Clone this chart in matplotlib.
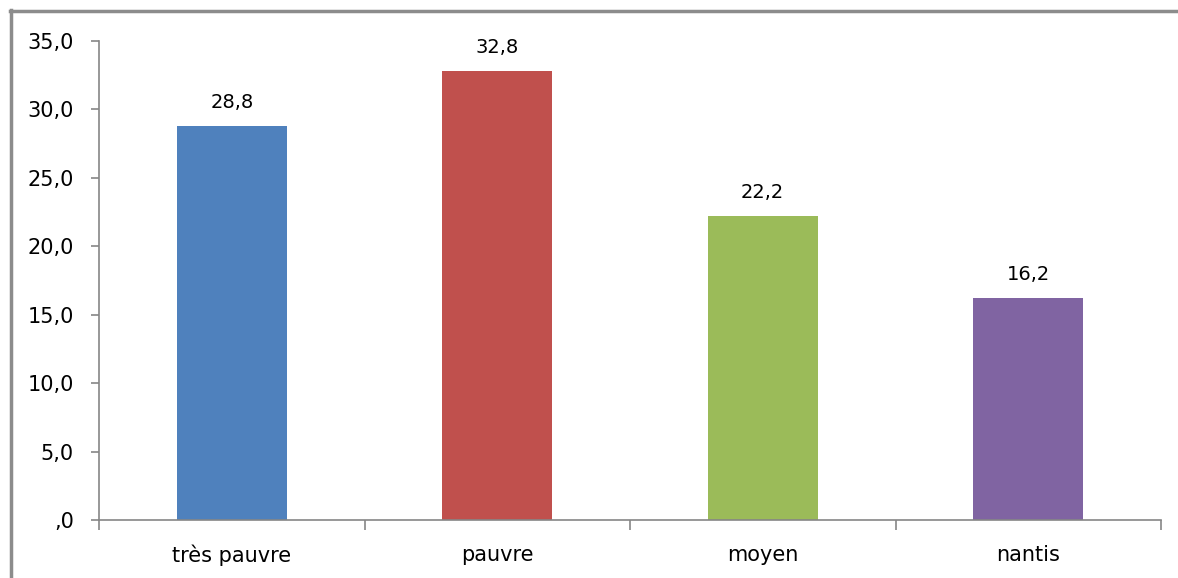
import matplotlib.pyplot as plt
from matplotlib.lines import Line2D
from matplotlib.ticker import FixedLocator, FuncFormatter

categories = ["très pauvre", "pauvre", "moyen", "nantis"]
values = [28.8, 32.8, 22.2, 16.2]
colors = ["#4F81BD", "#C0504D", "#9BBB59", "#8064A2"]
y_ticks = [0, 5, 10, 15, 20, 25, 30, 35]

axis_gray = "#868686"


def fr_number(v):
    s = f"{v:.1f}".replace(".", ",")
    # Excel-style: leading zero dropped
    if s.startswith("0"):
        s = s[1:]
    return s


fig = plt.figure(figsize=(11.78, 5.78), dpi=100)
ax = fig.add_axes([99 / 1178, 1 - 520 / 578, 1062 / 1178, 479 / 578])

x = list(range(len(categories)))
ax.bar(x, values, width=0.415, color=colors, zorder=2)

for xi, v in zip(x, values):
    ax.annotate(fr_number(v), (xi, v), xytext=(0, 10), textcoords="offset points",
                ha="center", va="bottom", fontsize=14, color="#000000")

ax.set_xlim(-0.5, len(categories) - 0.5)
ax.set_ylim(0, 35)
ax.set_yticks(y_ticks)
ax.yaxis.set_major_formatter(FuncFormatter(lambda v, p: fr_number(v)))

ax.set_xticks(x)
ax.set_xticklabels(categories)
ax.xaxis.set_minor_locator(FixedLocator([i - 0.5 for i in range(len(categories) + 1)]))

for side in ["top", "right"]:
    ax.spines[side].set_visible(False)
for side in ["left", "bottom"]:
    ax.spines[side].set_color(axis_gray)
    ax.spines[side].set_linewidth(1.2)
    ax.spines[side].set_zorder(3)

ax.tick_params(axis="y", direction="out", length=6, width=1.2, color=axis_gray,
               pad=12, labelsize=15)
ax.tick_params(axis="x", which="major", length=0, pad=18, labelsize=15)
ax.tick_params(axis="x", which="minor", direction="out", length=7, width=1.2,
               color=axis_gray)

# outer chart frame (left and top edges)
frame_kw = dict(color="#8C8C8C", linewidth=2.5, transform=fig.transFigure)
fig.add_artist(Line2D([10.5 / 1178, 10.5 / 1178], [0, 1 - 10 / 578], **frame_kw))
fig.add_artist(Line2D([9.5 / 1178, 1], [1 - 11 / 578, 1 - 11 / 578], **frame_kw))

fig.savefig("out.png", dpi=100)
